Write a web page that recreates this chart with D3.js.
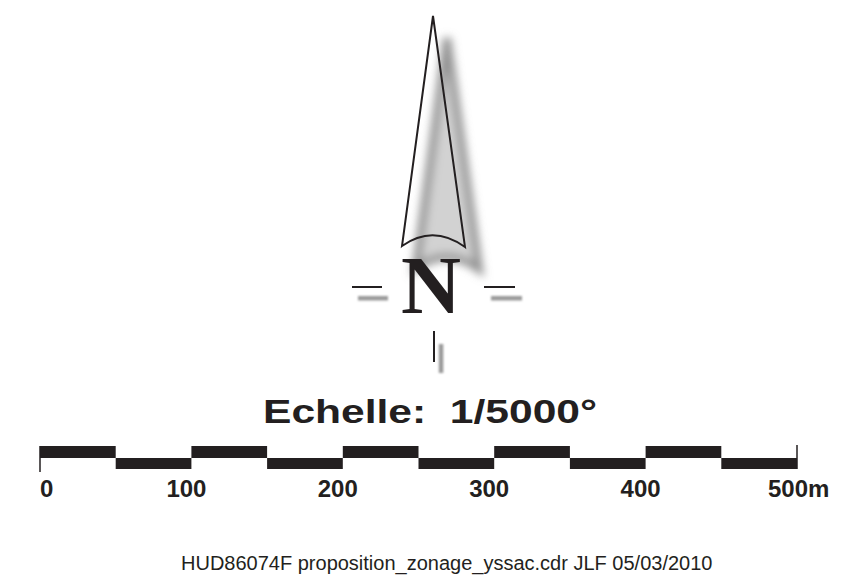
<!DOCTYPE html>
<html>
<head>
<meta charset="utf-8">
<script src="https://cdn.jsdelivr.net/npm/d3@7.9.0/dist/d3.min.js"></script>
<style>
  html, body { margin: 0; padding: 0; background: #fff; }
  svg { display: block; }
</style>
</head>
<body>
<svg width="860" height="585"></svg>
<script>
// scale bar data (metres)
const tickValues = [0, 100, 200, 300, 400, 500];
const tickLabels = ['0', '100', '200', '300', '400', '500m'];
const segmentStarts = [0, 50, 100, 150, 200, 250, 300, 350, 400, 450];
const segmentRow = ['up', 'down', 'up', 'down', 'up', 'down', 'up', 'down', 'up', 'down'];
const segmentLength = 50;

const titleText = 'Echelle:  1/5000°';
const footerText = 'HUD86074F proposition_zonage_yssac.cdr JLF 05/03/2010';

const svg = d3.select('svg');
const ink = '#231f20';

const defs = svg.append('defs');
defs.append('filter')
  .attr('id', 'soft')
  .attr('filterUnits', 'userSpaceOnUse')
  .attr('x', 0).attr('y', 0).attr('width', 860).attr('height', 585)
  .append('feGaussianBlur').attr('stdDeviation', 4.5);
defs.append('filter')
  .attr('id', 'softer')
  .attr('filterUnits', 'userSpaceOnUse')
  .attr('x', 0).attr('y', 0).attr('width', 860).attr('height', 585)
  .append('feGaussianBlur').attr('stdDeviation', 0.8);

// north arrow
const arrow = 'M433,16 L402,246 Q433,224 465,247 Z';

svg.append('path')
  .attr('d', arrow)
  .attr('transform', 'translate(14,22)')
  .attr('fill', '#d2d2d2')
  .attr('stroke', '#939393')
  .attr('stroke-width', 8)
  .attr('filter', 'url(#soft)');

svg.append('path')
  .attr('d', arrow)
  .attr('fill', 'none')
  .attr('stroke', ink)
  .attr('stroke-width', 2)
  .attr('stroke-linejoin', 'miter');

// N and its little marks
const marks = [
  { x1: 352, x2: 382, y: 287, dx: 6 },
  { x1: 484, x2: 515, y: 287, dx: 7 }
];
marks.forEach((m) => {
  svg.append('rect')
    .attr('x', m.x1 + m.dx).attr('width', m.x2 - m.x1)
    .attr('y', m.y + 9).attr('height', 4.5)
    .attr('fill', '#9a9a9a')
    .attr('filter', 'url(#softer)');
  svg.append('line')
    .attr('x1', m.x1).attr('x2', m.x2)
    .attr('y1', m.y).attr('y2', m.y)
    .attr('stroke', ink).attr('stroke-width', 2);
});

svg.append('rect')
  .attr('x', 438.8).attr('width', 4.5).attr('y', 344).attr('height', 29)
  .attr('fill', '#9a9a9a')
  .attr('filter', 'url(#softer)');
svg.append('line')
  .attr('x1', 434).attr('x2', 434).attr('y1', 331).attr('y2', 362)
  .attr('stroke', ink).attr('stroke-width', 2);

svg.append('text')
  .attr('x', 431).attr('y', 313)
  .attr('text-anchor', 'middle')
  .attr('font-family', '"Liberation Serif", "DejaVu Serif", serif')
  .attr('font-weight', 'bold')
  .attr('font-size', 83)
  .attr('fill', ink)
  .text('N');

// title (slightly stretched horizontally, as in the original)
svg.append('text')
  .attr('x', 263).attr('y', 423)
  .attr('textLength', 334)
  .attr('lengthAdjust', 'spacingAndGlyphs')
  .attr('font-family', '"Liberation Sans", Arial, sans-serif')
  .attr('font-weight', 'bold')
  .attr('font-size', 34)
  .attr('fill', ink)
  .attr('xml:space', 'preserve')
  .style('white-space', 'pre')
  .text(titleText);

// scale bar
const x = d3.scaleLinear().domain([0, 500]).range([40, 797]);
const barTop = 446;
const rowH = 12;

svg.append('g')
  .selectAll('rect')
  .data(segmentStarts)
  .join('rect')
  .attr('x', (d) => x(d))
  .attr('width', (d) => x(d + segmentLength) - x(d))
  .attr('y', (d, i) => segmentRow[i] === 'up' ? barTop : barTop + rowH)
  .attr('height', (d, i) => segmentRow[i] === 'up' ? rowH : rowH - 1)
  .attr('fill', ink);

svg.append('line')
  .attr('x1', x(0)).attr('x2', x(0))
  .attr('y1', barTop).attr('y2', 472)
  .attr('stroke', ink).attr('stroke-width', 1.5);
svg.append('line')
  .attr('x1', x(500)).attr('x2', x(500))
  .attr('y1', barTop - 1).attr('y2', barTop + 2 * rowH - 1)
  .attr('stroke', ink).attr('stroke-width', 1.5);

svg.append('g')
  .selectAll('text')
  .data(tickValues)
  .join('text')
  .attr('x', (d, i) => i === 0 ? x(d) : (i === tickValues.length - 1 ? x(d) - 29 : x(d) - 5))
  .attr('y', 497)
  .attr('text-anchor', (d, i) => (i === 0 || i === tickValues.length - 1) ? 'start' : 'middle')
  .attr('font-family', '"Liberation Sans", Arial, sans-serif')
  .attr('font-weight', 'bold')
  .attr('font-size', 24)
  .attr('fill', ink)
  .text((d, i) => tickLabels[i]);

// footer
svg.append('text')
  .attr('x', 181).attr('y', 570)
  .attr('font-family', '"Liberation Sans", Arial, sans-serif')
  .attr('font-size', 20)
  .attr('fill', ink)
  .text(footerText);
</script>
</body>
</html>
